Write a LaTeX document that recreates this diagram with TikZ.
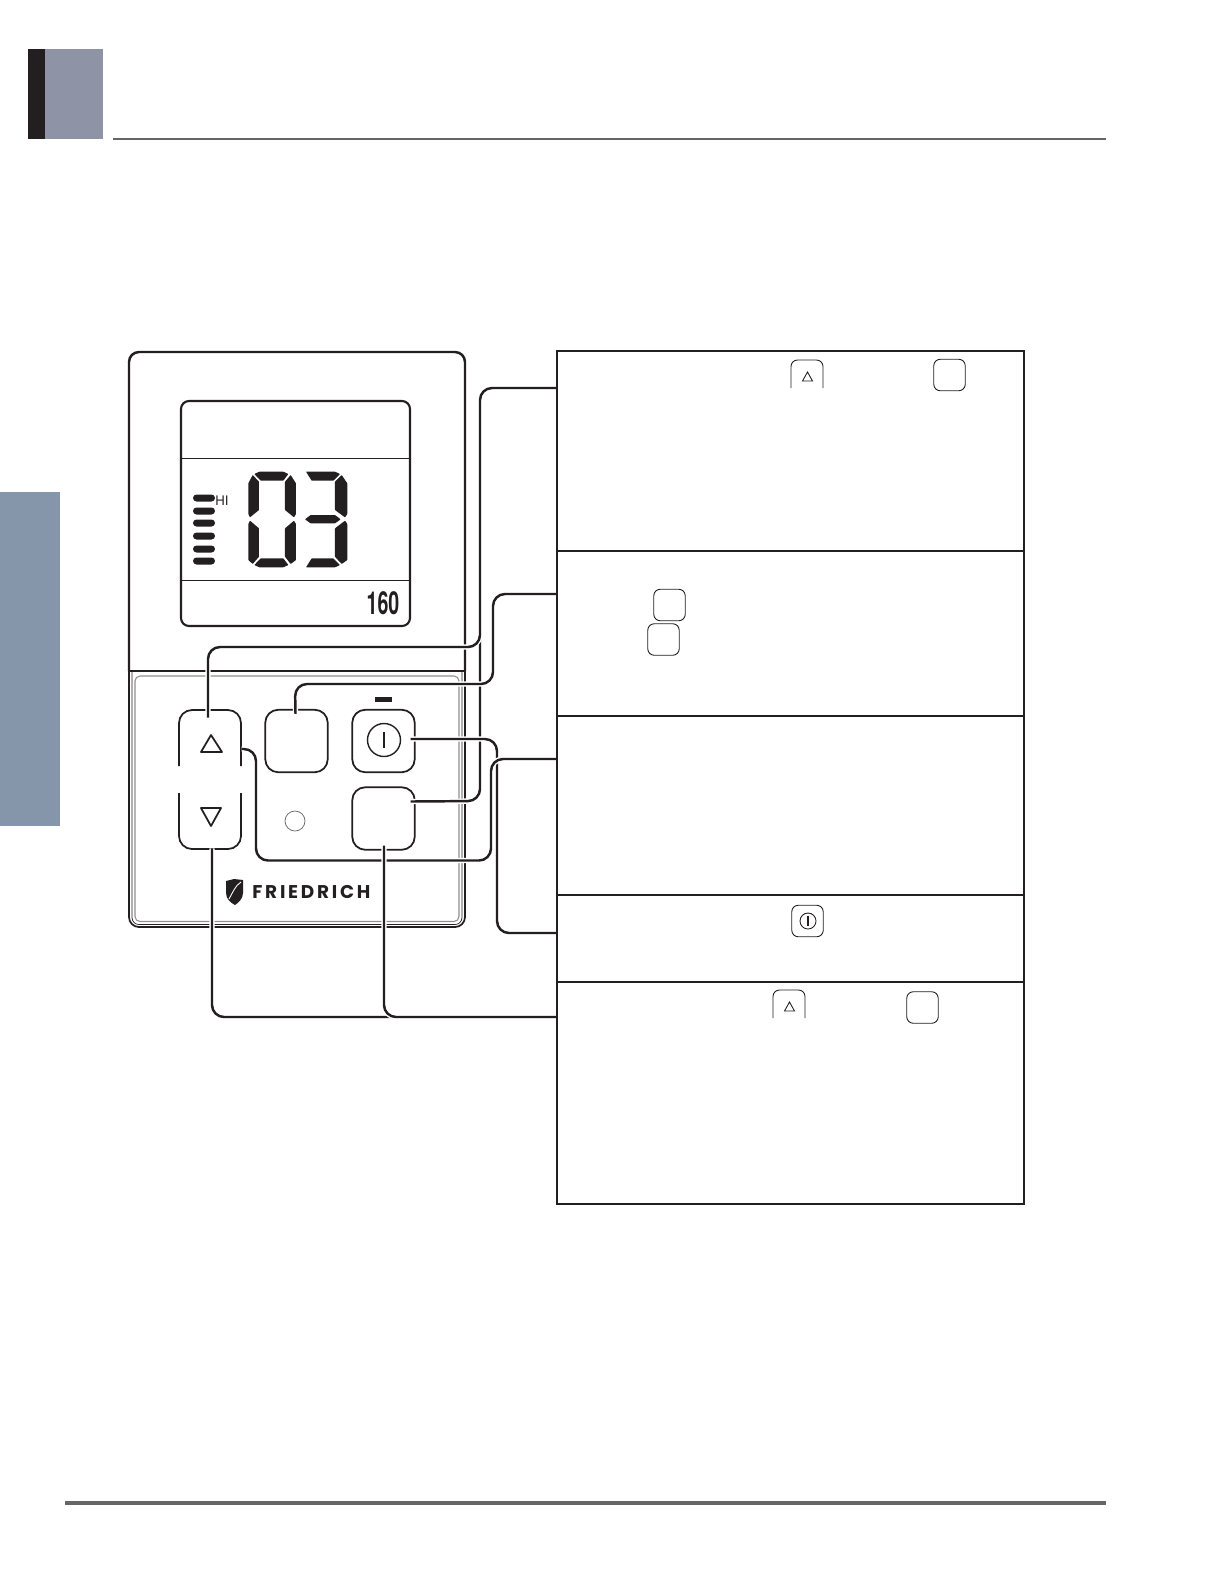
\documentclass[tikz,border=0pt]{standalone}
\usepackage{fontspec}
\newfontfamily\logofont[LetterSpace=15]{Poppins}
\newfontfamily\lcdfont{TeX Gyre Heros}
\usetikzlibrary{calc}
\definecolor{ink}{HTML}{231F20}
\definecolor{tabgrey}{HTML}{8E93A5}
\definecolor{sidegrey}{HTML}{8595AA}
\definecolor{rulegrey}{HTML}{666666}

\begin{document}
\begin{tikzpicture}[
    x=0.02cm, y=-0.02cm,
    panel/.style={draw=ink, line width=1.4pt, rounded corners=0.2cm},
    btn/.style={draw=ink, line width=1pt, rounded corners=0.26cm, minimum size=1.25cm, inner sep=0pt},
    minibtn/.style={draw=ink, line width=0.5pt, rounded corners=0.13cm, minimum size=0.63cm, inner sep=0pt},
    cell/.style={draw=ink, line width=0.7pt, minimum width=9.34cm, inner sep=0pt, outer sep=0pt},
    conn/.style={draw=ink, line width=1.4pt, rounded corners=0.24cm, preaction={draw=white, line width=3pt}},
    seg/.style={fill=ink, rounded corners=0.3pt},
    bar/.style={fill=ink, rounded corners=0.07cm}
]
\useasboundingbox (0,0) rectangle (1219,1587);

% page furniture
\fill[ink] (28,49) rectangle (45,139);
\fill[tabgrey] (45,49) rectangle (103,139);
\fill[sidegrey] (0,492) rectangle (60,826);
\draw[rulegrey, line width=1.2pt] (113,139) -- (1106,139);
\draw[rulegrey, line width=1.8pt] (65,1503) -- (1106,1503);

% control panel
\draw[panel] (129,671) -- (129,352) -- (465,352) -- (465,671);
\draw[ink, line width=1pt, rounded corners=0.2cm] (129,671) -- (129,927) -- (465,927) -- (465,671);
\draw[ink, line width=1.4pt] (129,671) -- (465,671);
\draw[ink, line width=0.4pt, rounded corners=0.14cm] (132,672) -- (132,924.5) -- (462,924.5) -- (462,672);
\draw[ink!50, line width=0.6pt, rounded corners=0.1cm] (135,676) -- (135,921.5) -- (459,921.5) -- (459,676) -- cycle;

% display
\draw[panel, line width=1.2pt, rounded corners=0.16cm] (181,401) rectangle (410,626);
\draw[ink, line width=0.5pt] (182,458) -- (409,458);
\draw[ink, line width=0.5pt] (182,580) -- (409,580);
\foreach \y in {498,511,523,536,549,561}
    \fill[bar] (193,\y-3.5) rectangle (215,\y+3.5);
\node[font=\lcdfont\fontsize{7.5}{8}\selectfont, text=ink, inner sep=0pt] (hi) at (222,501) {HI};
\node[font=\lcdfont\bfseries\fontsize{18}{18}\selectfont, text=ink, inner sep=0pt, xscale=0.62] (count) at (383,603) {160};

\begin{scope}[shift={(120,340)}, scale=1/3]
    % digit 0
    \fill[seg] (403,402) -- (418,395) -- (490,395) -- (505,402) -- (490,422) -- (422,422) -- cycle;
    \fill[seg] (385,430) -- (398,405) -- (417,425) -- (417,510) -- (390,532) -- (385,522) -- cycle;
    \fill[seg] (528,430) -- (512,405) -- (495,425) -- (495,510) -- (522,532) -- (528,522) -- cycle;
    \fill[seg] (385,660) -- (385,552) -- (390,542) -- (417,565) -- (417,650) -- (398,672) -- cycle;
    \fill[seg] (528,660) -- (528,552) -- (522,542) -- (495,565) -- (495,650) -- (512,672) -- cycle;
    \fill[seg] (403,675) -- (422,655) -- (490,655) -- (505,675) -- (490,682) -- (418,682) -- cycle;
    % digit 3
    \fill[seg] (558,395) -- (645,395) -- (660,402) -- (640,422) -- (575,422) -- cycle;
    \fill[seg] (682,430) -- (665,405) -- (645,425) -- (645,510) -- (675,532) -- (682,522) -- cycle;
    \fill[seg] (555,538) -- (572,525) -- (645,525) -- (662,538) -- (645,550) -- (572,550) -- cycle;
    \fill[seg] (682,660) -- (682,552) -- (675,542) -- (645,565) -- (645,650) -- (665,672) -- cycle;
    \fill[seg] (558,682) -- (575,655) -- (640,655) -- (660,675) -- (645,682) -- cycle;
\end{scope}

% buttons
\node[minimum width=1.25cm, minimum height=2.78cm, inner sep=0pt] (updown) at (210,779.5) {};
\draw[draw=ink, line width=1pt, rounded corners=0.26cm] (179,766) -- (179,710) -- (241,710) -- (241,766);
\draw[draw=ink, line width=1pt, rounded corners=0.26cm] (179,793) -- (179,849) -- (241,849) -- (241,793);
\draw[ink, line width=1pt, line join=round] (201,752) -- (222,752) -- (211,735) -- cycle;
\draw[ink, line width=1pt, line join=round] (201,808) -- (221,808) -- (211,826) -- cycle;
\node[btn] (fan) at (296.5,741) {};
\node[btn] (power) at (383.5,741) {};
\node[btn] (mode) at (383.5,818.5) {};
\draw[ink, line width=0.8pt] (384,740) circle (16.5);
\draw[ink, line width=0.8pt] (384,732) -- (384,748);
\fill[ink] (375,697) rectangle (392,702);
\draw[ink!70, line width=0.4pt] (295,821) circle (10);

% logo
\fill[ink] (226,881) -- (234,879) -- (243,880) -- (243,893) .. controls (243,899) and (238,903) .. (235,905) .. controls (231,903) and (226,899) .. (226,893) -- cycle;
\draw[white, line width=0.5pt] (241,882) .. controls (235,886) and (233,892) .. (229,899);
\node[font=\logofont\bfseries\fontsize{10.5}{11}\selectfont, text=ink, inner sep=0pt, anchor=west] (brand) at (252,892) {FRIEDRICH};

% text table
\node[cell, minimum height=4cm, anchor=north west] (cella) at (557,351) {};
\node[cell, minimum height=3.3cm, anchor=north] (cellb) at (cella.south) {};
\node[cell, minimum height=3.58cm, anchor=north] (cellc) at (cellb.south) {};
\node[cell, minimum height=1.74cm, anchor=north] (celld) at (cellc.south) {};
\node[cell, minimum height=4.44cm, anchor=north] (celle) at (celld.south) {};

% leaders
\draw[conn] ($(mode.east)+(-5,-17)$) -- (480,801) -- (480,388) -- (cella.north west |- 0,388);
\draw[conn] ($(updown.north)+(-2,8)$) -- (208,647) -- (480,647) -- (480,620);
\draw[conn] ($(fan.north)+(-1,5)$) -- (295,684) -- (493,684) -- (493,594) -- (cellb.north west |- 0,594);
\draw[conn] ($(power.east)+(-5,-2)$) -- (497,739) -- (497,933) -- (celld.north west |- 0,933);
\draw[conn] ($(updown.east)+(0,-30.5)$) -- (256,749) -- (256,860.5) -- (491,860.5) -- (491,759) -- (cellc.north west |- 0,759);
\draw[conn] ($(updown.south)+(2,-1)$) -- (212,1017) -- (celle.north west |- 0,1017);
\draw[conn] ($(mode.south)+(0.5,-5)$) -- (384,1017) -- (celle.north west |- 0,1017);

% table frame
\draw[ink, line width=1.4pt] (cella.north west) rectangle (celle.south east);
\draw[ink, line width=0.9pt] (cellb.south west) -- (cellb.south east);

% small button pictures in the table
\foreach \n/\x/\y in {a/949.5/375, b/669.5/605, c/663.5/639.5, d/922.5/1007.5}
    \node[minibtn] (mini\n) at (\x,\y) {};
\node[minibtn] (minipower) at (807.5,921) {};
\draw[ink, line width=0.5pt] (808,921) circle (8);
\draw[ink, line width=0.8pt] (808,916) -- (808,926);
\foreach \x/\y in {791/360, 773/990} {
    \draw[ink, line width=0.5pt, rounded corners=0.13cm] (\x,\y+28) -- (\x,\y) -- (\x+32,\y) -- (\x+32,\y+28);
    \draw[ink, line width=0.5pt] (\x+11.5,\y+21) -- (\x+21.5,\y+21) -- (\x+16.5,\y+12) -- cycle;
}
\end{tikzpicture}
\end{document}
